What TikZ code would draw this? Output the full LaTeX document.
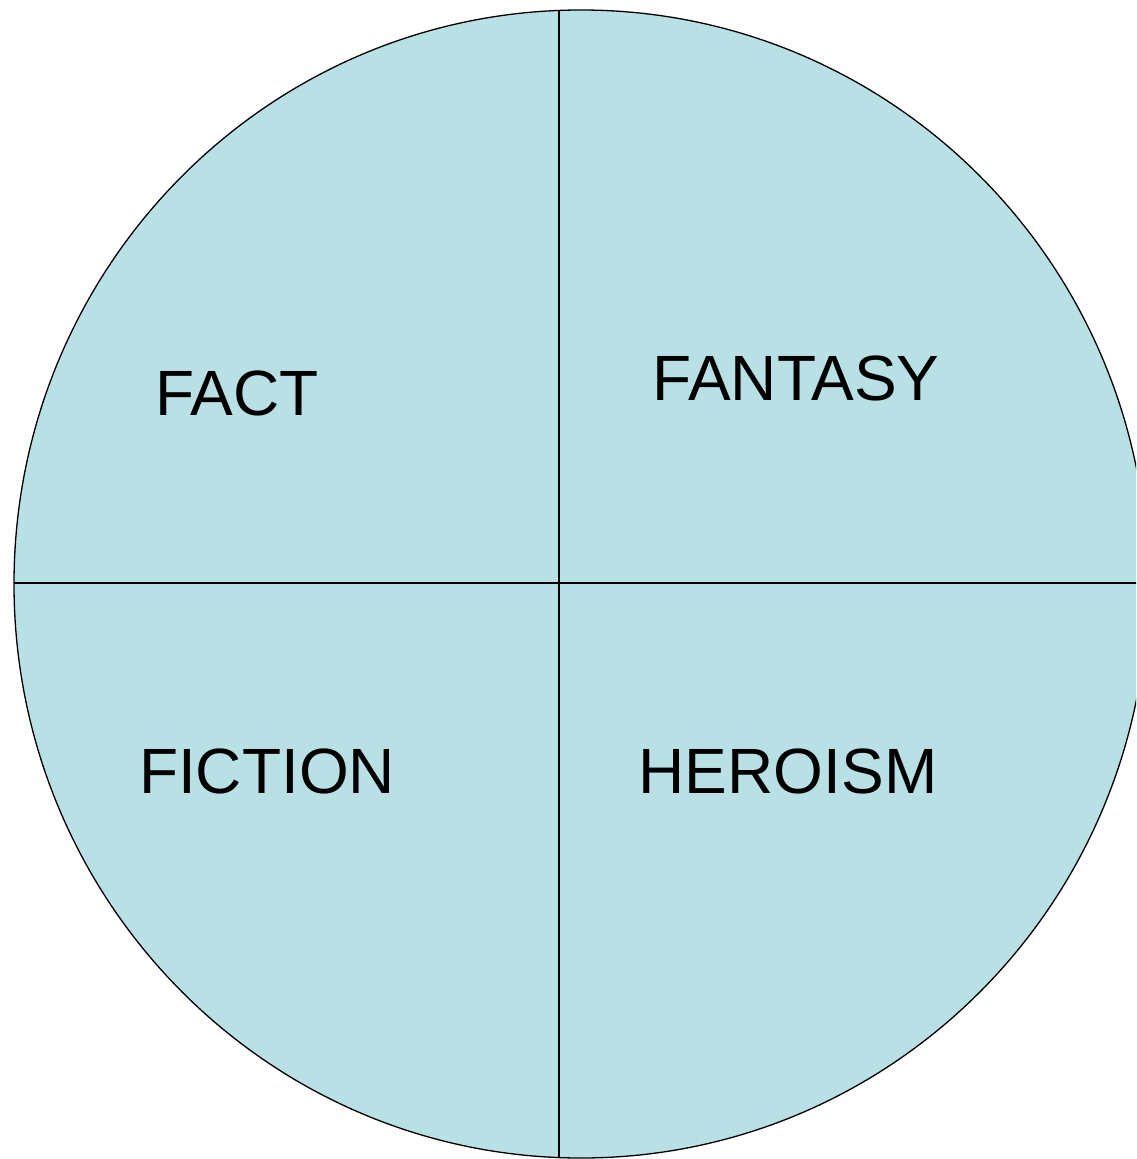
\documentclass[tikz,border=0pt]{standalone}
\usepackage{fontspec}
\setmainfont{Liberation Sans}
\definecolor{pie}{RGB}{185,224,228}
\begin{document}
\begin{tikzpicture}[x=1pt,y=-1pt,
  lbl/.style={font=\fontsize{64}{76}\selectfont, inner sep=0pt, anchor=base},
  edge/.style={draw=black, line width=1.3pt}]
\useasboundingbox (0,0) rectangle (1136,1159);
\clip (0,0) rectangle (1136,1159);
\fill[pie, edge] (581,584) ellipse [x radius=567, y radius=574];
\coordinate (top) at (559,10);
\coordinate (bot) at (559,1158);
\coordinate (lft) at (14,583);
\coordinate (rgt) at (1150,583);
\draw[edge] (top) -- (bot);
\draw[edge] (lft) -- (rgt);
\node[lbl] (fact) at (237,415) {FACT};
\node[lbl] (fantasy) at (796,400) {FANTASY};
\node[lbl] (fiction) at (267,793) {FICTION};
\node[lbl] (heroism) at (788,793) {HEROISM};
\end{tikzpicture}
\end{document}
